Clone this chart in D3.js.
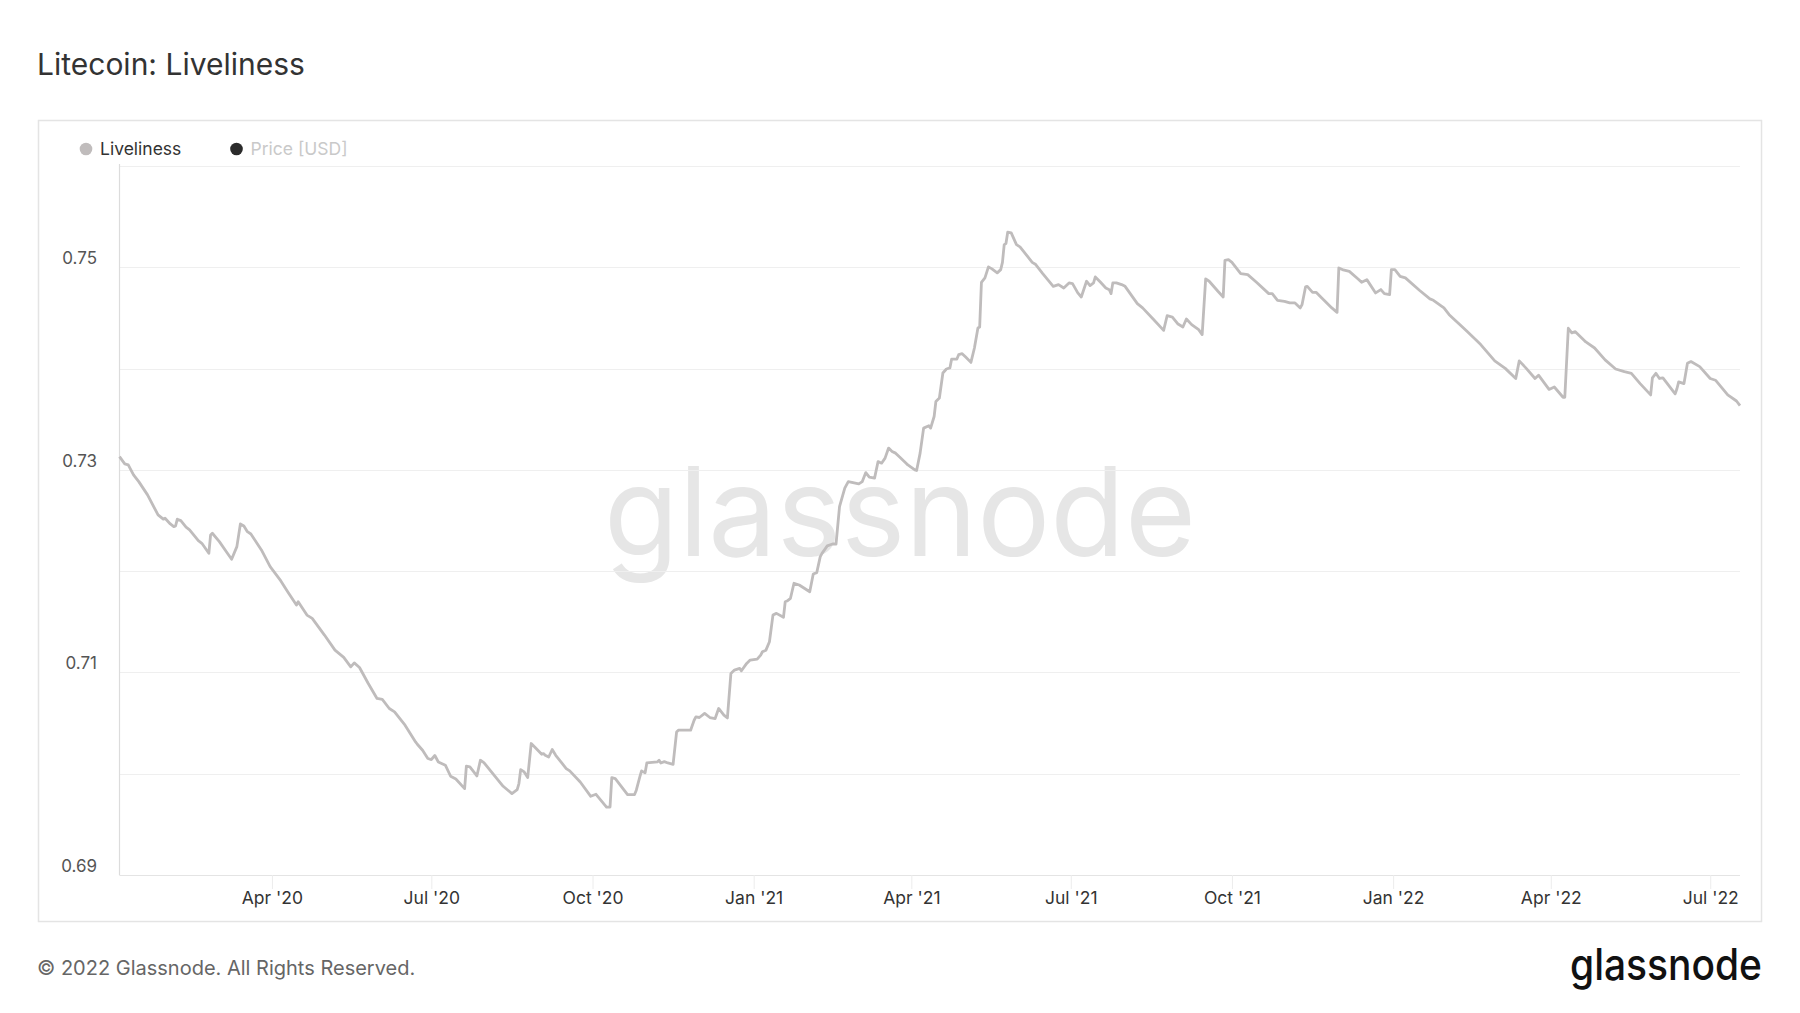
<!DOCTYPE html>
<html>
<head>
<meta charset="utf-8">
<script src="https://cdn.jsdelivr.net/npm/d3@7"></script>
<style>
  body { margin: 0; background: #fff; }
  svg { display: block; font-family: Inter, "Noto Sans", sans-serif; }
</style>
</head>
<body>
<script>
//chart data
var dates = [
  '2020-01-05','2020-01-08','2020-01-10','2020-01-13','2020-01-16','2020-01-21','2020-01-27','2020-01-30','2020-01-31',
  '2020-02-03','2020-02-05','2020-02-06','2020-02-07','2020-02-09','2020-02-12','2020-02-14','2020-02-19','2020-02-21','2020-02-25','2020-02-26','2020-02-27',
  '2020-03-02','2020-03-06','2020-03-09','2020-03-12','2020-03-14','2020-03-16','2020-03-18','2020-03-20','2020-03-26','2020-03-31',
  '2020-04-06','2020-04-10','2020-04-15','2020-04-16','2020-04-21','2020-04-24',
  '2020-05-01','2020-05-07','2020-05-12','2020-05-16','2020-05-18','2020-05-21','2020-05-26','2020-05-31',
  '2020-06-03','2020-06-07','2020-06-10','2020-06-16','2020-06-22','2020-06-23','2020-06-26','2020-06-29',
  '2020-07-01','2020-07-03','2020-07-05','2020-07-09','2020-07-12','2020-07-15','2020-07-20','2020-07-21','2020-07-23','2020-07-27','2020-07-29','2020-07-31',
  '2020-08-11','2020-08-16','2020-08-19','2020-08-20','2020-08-21','2020-08-23','2020-08-25','2020-08-27','2020-08-29',
  '2020-09-02','2020-09-03','2020-09-04','2020-09-06','2020-09-08','2020-09-10','2020-09-16','2020-09-18','2020-09-24','2020-09-30',
  '2020-10-03','2020-10-09','2020-10-11','2020-10-12','2020-10-14','2020-10-21','2020-10-25','2020-10-26','2020-10-28','2020-10-29','2020-10-31',
  '2020-11-01','2020-11-07','2020-11-08','2020-11-09','2020-11-11','2020-11-13','2020-11-16','2020-11-18','2020-11-19','2020-11-26','2020-11-28','2020-11-29',
  '2020-12-01','2020-12-04','2020-12-07','2020-12-10','2020-12-12','2020-12-15','2020-12-17','2020-12-19','2020-12-21','2020-12-24','2020-12-25','2020-12-28','2020-12-30',
  '2021-01-03','2021-01-05','2021-01-06','2021-01-08','2021-01-10','2021-01-12','2021-01-14','2021-01-18','2021-01-19','2021-01-20','2021-01-22','2021-01-24','2021-01-27',
  '2021-02-02','2021-02-04','2021-02-06','2021-02-08','2021-02-09','2021-02-12','2021-02-15','2021-02-17','2021-02-19','2021-02-22','2021-02-24',
  '2021-03-02','2021-03-04','2021-03-06','2021-03-08','2021-03-11','2021-03-13','2021-03-15','2021-03-17','2021-03-19','2021-03-21','2021-03-23','2021-03-25','2021-03-29','2021-03-30',
  '2021-04-03','2021-04-04','2021-04-06','2021-04-08','2021-04-11','2021-04-12','2021-04-14','2021-04-15','2021-04-17','2021-04-19','2021-04-21','2021-04-23','2021-04-24','2021-04-27','2021-04-28','2021-04-30',
  '2021-05-02','2021-05-05','2021-05-07','2021-05-09','2021-05-10','2021-05-11','2021-05-13','2021-05-15','2021-05-17','2021-05-20','2021-05-22','2021-05-23','2021-05-24','2021-05-25','2021-05-26','2021-05-28','2021-05-31',
  '2021-06-02','2021-06-09','2021-06-11','2021-06-15','2021-06-21','2021-06-24','2021-06-27','2021-06-30',
  '2021-07-02','2021-07-05','2021-07-07','2021-07-10','2021-07-12','2021-07-14','2021-07-15','2021-07-18','2021-07-21','2021-07-23','2021-07-24','2021-07-25','2021-07-27','2021-07-30',
  '2021-08-01','2021-08-08','2021-08-11','2021-08-17','2021-08-23','2021-08-25','2021-08-28','2021-08-31',
  '2021-09-03','2021-09-05','2021-09-08','2021-09-12','2021-09-14','2021-09-16','2021-09-18','2021-09-23','2021-09-26','2021-09-27','2021-09-29',
  '2021-10-01','2021-10-06','2021-10-10','2021-10-15','2021-10-22','2021-10-24','2021-10-27','2021-10-31',
  '2021-11-03','2021-11-06','2021-11-09','2021-11-10','2021-11-12','2021-11-13','2021-11-16','2021-11-18','2021-11-27','2021-11-30',
  '2021-12-01','2021-12-03','2021-12-07','2021-12-12','2021-12-14','2021-12-17','2021-12-22','2021-12-25','2021-12-27','2021-12-30','2021-12-31',
  '2022-01-02','2022-01-05','2022-01-08','2022-01-16','2022-01-22','2022-01-24','2022-01-30',
  '2022-02-02','2022-02-12','2022-02-20','2022-02-28',
  '2022-03-06','2022-03-12','2022-03-14','2022-03-18','2022-03-23','2022-03-25','2022-03-31',
  '2022-04-03','2022-04-08','2022-04-09','2022-04-11','2022-04-13','2022-04-15','2022-04-21','2022-04-26',
  '2022-05-02','2022-05-08','2022-05-13','2022-05-17','2022-05-22','2022-05-28','2022-05-29','2022-05-31',
  '2022-06-02','2022-06-04','2022-06-11','2022-06-12','2022-06-13','2022-06-16','2022-06-18','2022-06-20','2022-06-25',
  '2022-07-01','2022-07-04','2022-07-11','2022-07-16','2022-07-18'
];

var liveliness = [
  0.73131,0.73059,0.73049,0.72951,0.72884,0.72753,0.72555,0.72513,0.72522,
  0.72466,0.72439,0.72446,0.72513,0.72499,0.72434,0.72407,0.72301,0.72275,0.72176,0.72357,0.72374,
  0.72291,0.72192,0.72117,0.72242,0.72466,0.72446,0.72390,0.72367,0.72209,0.72044,
  0.71906,0.71797,0.71665,0.71698,0.71566,0.71534,
  0.71369,0.71220,0.71148,0.71055,0.71094,0.71049,0.70891,0.70743,
  0.70733,0.70644,0.70611,0.70479,0.70314,0.70291,0.70232,0.70150,
  0.70140,0.70180,0.70116,0.70084,0.69975,0.69948,0.69853,0.70074,0.70067,0.69978,0.70133,0.70110,
  0.69876,0.69804,0.69843,0.69903,0.70041,0.70018,0.69962,0.70298,0.70264,
  0.70192,0.70199,0.70182,0.70165,0.70239,0.70182,0.70051,0.70028,0.69918,0.69777,
  0.69797,0.69671,0.69671,0.69962,0.69952,0.69794,0.69794,0.69837,0.69968,0.70028,0.70008,
  0.70106,0.70116,0.70133,0.70106,0.70119,0.70106,0.70093,0.70413,0.70430,0.70430,0.70528,0.70561,
  0.70555,0.70595,0.70555,0.70545,0.70644,0.70578,0.70551,0.70990,0.71023,0.71040,0.71016,0.71089,0.71122,
  0.71131,0.71171,0.71204,0.71220,0.71303,0.71566,0.71583,0.71544,0.71698,0.71705,0.71732,0.71880,0.71863,
  0.71797,0.71972,0.71985,0.72143,0.72176,0.72249,0.72268,0.72268,0.72637,0.72819,0.72884,
  0.72862,0.72884,0.72973,0.72928,0.72918,0.73082,0.73066,0.73116,0.73215,0.73181,0.73165,0.73131,0.73066,0.73049,
  0.73000,0.72993,0.73165,0.73412,0.73435,0.73412,0.73527,0.73675,0.73709,0.73956,0.73996,0.74006,0.74094,0.74094,0.74137,0.74147,
  0.74114,0.74061,0.74203,0.74401,0.74411,0.74852,0.74896,0.75004,0.74984,0.74945,0.74977,0.75049,0.75224,0.75234,0.75346,0.75340,0.75224,
  0.75202,0.75049,0.75027,0.74938,0.74812,0.74829,0.74796,0.74846,
  0.74839,0.74747,0.74707,0.74862,0.74820,0.74846,0.74905,0.74852,0.74796,0.74779,0.74740,0.74846,0.74846,0.74829,
  0.74812,0.74641,0.74599,0.74490,0.74377,0.74522,0.74509,0.74443,
  0.74411,0.74490,0.74434,0.74384,0.74335,0.74885,0.74862,0.74763,0.74707,0.75069,0.75076,
  0.75049,0.74938,0.74928,0.74852,0.74740,0.74740,0.74674,0.74664,
  0.74648,0.74648,0.74599,0.74631,0.74806,0.74812,0.74753,0.74753,0.74599,0.74555,
  0.74994,0.74977,0.74960,0.74885,0.74852,0.74878,0.74747,0.74780,0.74740,0.74730,0.74977,
  0.74977,0.74911,0.74895,0.74773,0.74688,0.74674,0.74599,
  0.74532,0.74370,0.74237,0.74076,
  0.74002,0.73902,0.74076,0.74002,0.73902,0.73935,0.73794,
  0.73818,0.73717,0.73717,0.74398,0.74353,0.74364,0.74263,0.74203,
  0.74086,0.73996,0.73969,0.73953,0.73851,0.73740,0.73909,0.73953,
  0.73902,0.73909,0.73750,0.73801,0.73868,0.73851,0.74052,0.74069,0.74019,
  0.73902,0.73885,0.73740,0.73680,0.73635
];

//axis labels and ranges
var xDomain = ['2020-01-05', '2022-07-18'];
var yDomain = [0.69, 0.76];
var yGridValues = [0.69, 0.70, 0.71, 0.72, 0.73, 0.74, 0.75, 0.76];
var yLabelValues = [0.69, 0.71, 0.73, 0.75];
var xTickDates = ['2020-04-01','2020-07-01','2020-10-01','2021-01-01','2021-04-01','2021-07-01','2021-10-01','2022-01-01','2022-04-01','2022-07-01'];
var legendNames = ['Liveliness', 'Price [USD]'];

//page size and plot area
var W = 1800, H = 1013;
var plot = {left: 119.5, right: 1740, top: 166, bottom: 875};

var parseDate = d3.timeParse('%Y-%m-%d');
var data = dates.map(function(d, i) { return {date: parseDate(d), value: liveliness[i]}; });

var svg = d3.select('body').append('svg')
    .attr('width', W)
    .attr('height', H);

//setup scales
var xScale = d3.scaleTime()
    .domain(xDomain.map(parseDate))
    .range([plot.left, plot.right]);
var yScale = d3.scaleLinear()
    .domain(yDomain)
    .range([plot.bottom, plot.top]);

//title
svg.append('text')
    .attr('x', 37)
    .attr('y', 75)
    .attr('fill', '#333')
    .style('font-size', '30px')
    .text('Litecoin: Liveliness');

//chart frame
svg.append('rect')
    .attr('x', 38.5).attr('y', 120.5)
    .attr('width', 1723).attr('height', 801)
    .attr('fill', 'none')
    .attr('stroke', '#e4e4e4')
    .attr('stroke-width', 1.5);

//legend
var legend = svg.append('g');
var legendX = [86, 236.5];
var legendDot = ['#c0bcbc', '#2b2b2b'];
var legendText = ['#333', '#c9c9c9'];
legendNames.forEach(function(name, i) {
    legend.append('circle')
        .attr('cx', legendX[i]).attr('cy', 149)
        .attr('r', 6.3)
        .attr('fill', legendDot[i]);
    legend.append('text')
        .attr('x', legendX[i] + 14).attr('y', 155)
        .attr('fill', legendText[i])
        .style('font-size', '17.5px')
        .text(name);
});

//watermark
svg.append('text')
    .attr('x', 900).attr('y', 556)
    .attr('text-anchor', 'middle')
    .attr('fill', '#e6e6e6')
    .attr('textLength', 592)
    .attr('lengthAdjust', 'spacingAndGlyphs')
    .style('font-size', '124px')
    .text('glassnode');

//grid lines
svg.append('g').selectAll('line')
    .data(yGridValues)
    .enter().append('line')
    .attr('x1', plot.left).attr('x2', plot.right)
    .attr('y1', function(d) { return Math.round(yScale(d)) + 0.5; })
    .attr('y2', function(d) { return Math.round(yScale(d)) + 0.5; })
    .attr('stroke', '#efefef')
    .attr('stroke-width', 1);

//y axis line
svg.append('line')
    .attr('x1', plot.left).attr('x2', plot.left)
    .attr('y1', plot.top - 2).attr('y2', plot.bottom)
    .attr('stroke', '#dcdcdc')
    .attr('stroke-width', 1.2);

//x axis line
svg.append('line')
    .attr('x1', plot.left).attr('x2', plot.right)
    .attr('y1', plot.bottom + 0.5).attr('y2', plot.bottom + 0.5)
    .attr('stroke', '#e4e4e4');

//y labels
svg.append('g').selectAll('text')
    .data(yLabelValues)
    .enter().append('text')
    .attr('x', 97)
    .attr('y', function(d) { return yScale(d) - 3; })
    .attr('text-anchor', 'end')
    .attr('fill', '#555')
    .style('font-size', '17px')
    .text(function(d) { return d3.format('.2f')(d); });

//x axis ticks and labels
var xAxis = d3.axisBottom(xScale)
    .tickValues(xTickDates.map(parseDate))
    .tickFormat(d3.timeFormat("%b '%y"))
    .tickSize(14)
    .tickPadding(3);
var gx = svg.append('g')
    .attr('transform', 'translate(0,' + plot.bottom + ')')
    .call(xAxis);
gx.select('.domain').remove();
gx.selectAll('.tick line').attr('stroke', '#ececec');
gx.selectAll('.tick text')
    .attr('fill', '#333')
    .style('font-size', '17.5px')
    .style('font-family', 'Inter, "Noto Sans", sans-serif');

//liveliness line
var line = d3.line()
    .x(function(d) { return xScale(d.date); })
    .y(function(d) { return yScale(d.value); });
svg.append('path')
    .datum(data)
    .attr('d', line)
    .attr('fill', 'none')
    .attr('stroke', '#bfbcbc')
    .attr('stroke-width', 2.8)
    .attr('stroke-linejoin', 'round');

//footer
svg.append('text')
    .attr('x', 37).attr('y', 975)
    .attr('fill', '#666')
    .style('font-size', '20px')
    .text('\u00a9 2022 Glassnode. All Rights Reserved.');

svg.append('text')
    .attr('x', 1762).attr('y', 980)
    .attr('text-anchor', 'end')
    .attr('fill', '#111')
    .attr('textLength', 192)
    .attr('lengthAdjust', 'spacingAndGlyphs')
    .style('font-size', '44px')
    .style('font-weight', 500)
    .text('glassnode');
</script>
</body>
</html>
